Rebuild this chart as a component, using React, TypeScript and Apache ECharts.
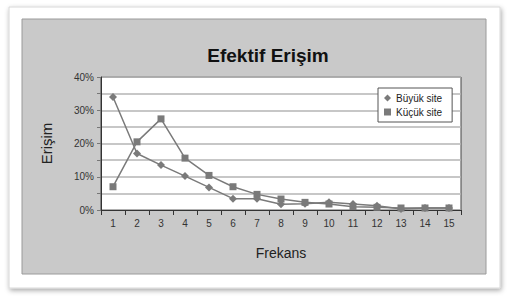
import React, { useEffect, useRef } from "react";
import * as echarts from "echarts";

const categories = ["1", "2", "3", "4", "5", "6", "7", "8", "9", "10", "11", "12", "13", "14", "15"];
const buyukSite = [34, 17, 13.5, 10.2, 6.8, 3.4, 3.4, 1.7, 1.9, 2.3, 1.8, 1.3, 0.3, 0.6, 0.6];
const kucukSite = [7, 20.5, 27.4, 15.6, 10.4, 7, 4.7, 3.3, 2.3, 1.8, 1.0, 0.8, 0.6, 0.6, 0.6];
const seriesNames = ["Büyük site", "Küçük site"];

export default function App() {
  const ref = useRef<HTMLDivElement>(null);
  useEffect(() => {
    document.body.style.margin = "0";
    const chart = echarts.init(ref.current!, null, { renderer: "svg" });
    const font = "Liberation Sans, Arial, sans-serif";
    chart.setOption({
      animation: false,
      backgroundColor: "#ffffff",
      textStyle: { fontFamily: font },
      graphic: [
        {
          type: "rect",
          z: -10,
          shape: { x: 9, y: 7, width: 491, height: 281 },
          style: { fill: "#ffffff", stroke: "#d8d8d8", lineWidth: 1, shadowBlur: 5, shadowColor: "rgba(0,0,0,0.35)", shadowOffsetX: 1, shadowOffsetY: 2 },
        },
        {
          type: "rect",
          z: -9,
          shape: { x: 22, y: 19, width: 464, height: 255 },
          style: { fill: "#c9c9c9", stroke: "#9a9a9a", lineWidth: 1 },
        },
      ],
      title: {
        text: "Efektif Erişim",
        left: 263,
        textAlign: "center",
        top: 41,
        textStyle: { fontSize: 19, fontWeight: "bold", color: "#111", fontFamily: font },
      },
      legend: {
        orient: "vertical",
        left: 378,
        top: 88,
        backgroundColor: "#ffffff",
        borderColor: "#555",
        borderWidth: 1,
        padding: [5, 10, 5, 6],
        itemGap: 4,
        itemWidth: 7,
        itemHeight: 7,
        textStyle: { fontSize: 10, color: "#222", fontFamily: font },
        data: [
          { name: seriesNames[0], icon: "diamond" },
          { name: seriesNames[1], icon: "rect" },
        ],
      },
      grid: {
        left: 101,
        top: 77,
        width: 360,
        height: 133,
        show: true,
        backgroundColor: "#ffffff",
        borderColor: "#444",
        borderWidth: 1,
      },
      xAxis: {
        type: "category",
        data: categories,
        boundaryGap: true,
        name: "Frekans",
        nameLocation: "middle",
        nameGap: 36,
        nameTextStyle: { fontSize: 14, color: "#222" },
        axisLine: { lineStyle: { color: "#333" } },
        axisTick: { show: true, length: 5, lineStyle: { color: "#333" } },
        axisLabel: { fontSize: 10, color: "#333", margin: 8 },
      },
      yAxis: {
        type: "value",
        min: 0,
        max: 40,
        interval: 5,
        name: "Erişim",
        nameLocation: "middle",
        nameGap: 47,
        nameTextStyle: { fontSize: 15, color: "#222" },
        axisLine: { show: true, lineStyle: { color: "#333" } },
        axisTick: { show: true, length: 4, lineStyle: { color: "#777" } },
        axisLabel: {
          fontSize: 10,
          color: "#333",
          margin: 7,
          formatter: (v: number) => (v % 10 === 0 ? v + "%" : ""),
        },
        splitLine: { show: true, lineStyle: { color: "#b5b5b5", width: 1.5 } },
      },
      series: [
        {
          name: seriesNames[0],
          type: "line",
          data: buyukSite,
          symbol: "diamond",
          symbolSize: 8,
          itemStyle: { color: "#7a7a7a" },
          lineStyle: { color: "#7a7a7a", width: 1.5 },
        },
        {
          name: seriesNames[1],
          type: "line",
          data: kucukSite,
          symbol: "rect",
          symbolSize: 7,
          itemStyle: { color: "#7a7a7a" },
          lineStyle: { color: "#7a7a7a", width: 1.5 },
        },
      ],
    });
    return () => chart.dispose();
  }, []);
  return <div ref={ref} style={{ position: "absolute", left: 0, top: 0, width: 509, height: 300 }} />;
}
